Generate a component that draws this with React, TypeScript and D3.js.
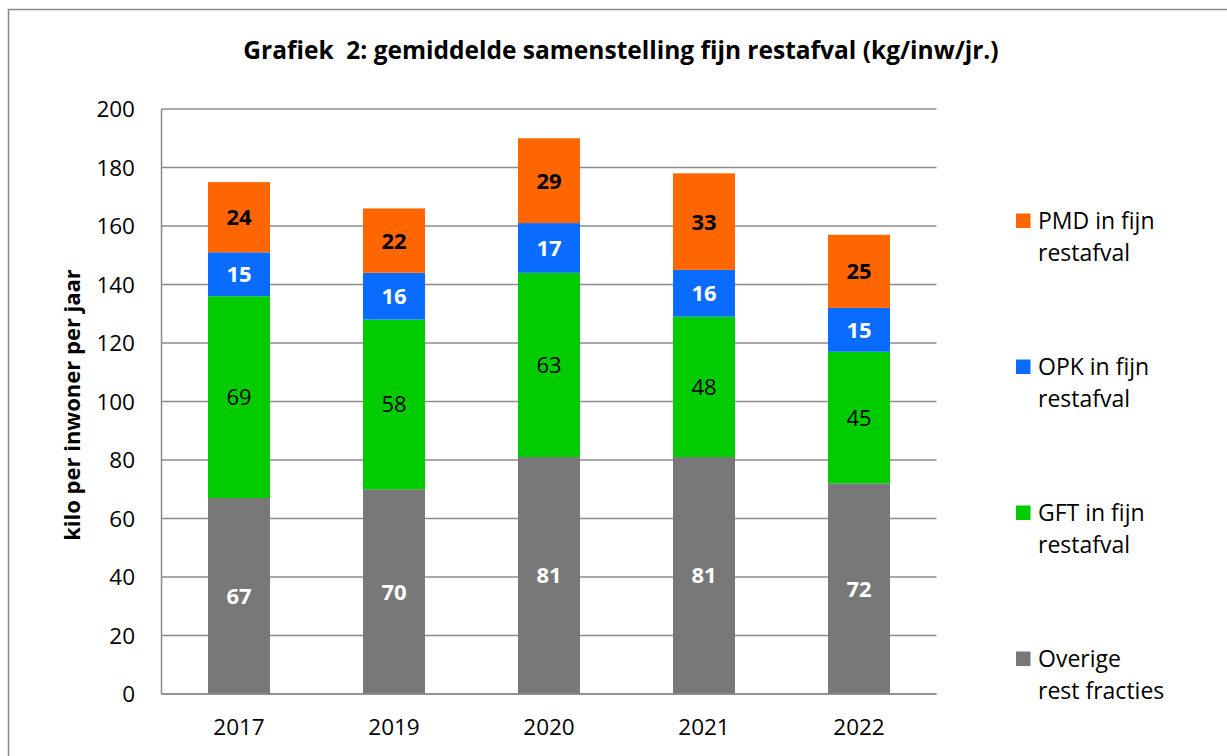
import React from "react";
import * as d3 from "d3";

const years = ["2017", "2019", "2020", "2021", "2022"];
const overige = [67, 70, 81, 81, 72];
const gft = [69, 58, 63, 48, 45];
const opk = [15, 16, 17, 16, 15];
const pmd = [24, 22, 29, 33, 25];
const yTicks = [0, 20, 40, 60, 80, 100, 120, 140, 160, 180, 200];

const seriesNames = ["Overige rest fracties", "GFT in fijn restafval", "OPK in fijn restafval", "PMD in fijn restafval"];
const legendLines = [
  ["PMD in fijn", "restafval"],
  ["OPK in fijn", "restafval"],
  ["GFT in fijn", "restafval"],
  ["Overige", "rest fracties"],
];
const colors = ["#787878", "#00CC00", "#0A6CFF", "#FF6600"];
const labelStyle = [
  { fill: "#ffffff", weight: 700 },
  { fill: "#000000", weight: 400 },
  { fill: "#ffffff", weight: 700 },
  { fill: "#000000", weight: 700 },
];

const FONT = "'Open Sans', 'DejaVu Sans', sans-serif";

export default function App() {
  const W = 1227, H = 756;
  const left = 161.5, right = 936.5, top = 109, bottom = 694;
  const x = d3.scaleBand().domain(years).range([left, right]).paddingInner(0.6).paddingOuter(0.3);
  const y = d3.scaleLinear().domain([0, 200]).range([bottom, top]);

  const table = years.map((yr, i) => ({ year: yr, s0: overige[i], s1: gft[i], s2: opk[i], s3: pmd[i] }));
  const stack = d3.stack<any>().keys(["s0", "s1", "s2", "s3"]);
  const stacked = stack(table);

  return (
    <svg width={W} height={H} style={{ position: "absolute", left: 0, top: 0, background: "#fff" }} fontFamily={FONT}>
      <rect x={8.5} y={9.5} width={1300} height={800} fill="#fff" stroke="#888" strokeWidth={1.5} />
      <text x={621} y={59} textAnchor="middle" fontSize={24.5} fontWeight={700} fill="#000" style={{ whiteSpace: "pre" }}>
        {"Grafiek  2: gemiddelde samenstelling fijn restafval (kg/inw/jr.)"}
      </text>
      {yTicks.map((t) => (
        <g key={t}>
          <line x1={left} x2={right} y1={y(t)} y2={y(t)} stroke="#8c8c8c" strokeWidth={1.5} />
          <text x={135} y={y(t)} dy="0.36em" textAnchor="end" fontSize={22.5} fill="#000">{t}</text>
        </g>
      ))}
      <line x1={left} x2={left} y1={top} y2={bottom} stroke="#8c8c8c" strokeWidth={1.5} />
      {stacked.map((layer, si) => (
        <g key={si}>
          {layer.map((d, i) => {
            const x0 = x(years[i])!;
            const y0 = y(d[1]);
            const h = y(d[0]) - y(d[1]);
            return (
              <g key={i}>
                <rect x={x0} y={y0} width={x.bandwidth()} height={h} fill={colors[si]} />
                <text
                  x={x0 + x.bandwidth() / 2}
                  y={y0 + h / 2}
                  dy="0.36em"
                  textAnchor="middle"
                  fontSize={22}
                  fontWeight={labelStyle[si].weight}
                  fill={labelStyle[si].fill}
                >
                  {d[1] - d[0]}
                </text>
              </g>
            );
          })}
        </g>
      ))}
      <line x1={left} x2={right} y1={bottom} y2={bottom} stroke="#8c8c8c" strokeWidth={1.5} />
      {years.map((yr) => (
        <text key={yr} x={x(yr)! + x.bandwidth() / 2} y={735} textAnchor="middle" fontSize={22.5} fill="#000">{yr}</text>
      ))}
      <text transform={`translate(80,405) rotate(-90)`} textAnchor="middle" fontSize={22} fontWeight={700} fill="#000">
        kilo per inwoner per jaar
      </text>
      {legendLines.map((lines, i) => {
        const cy = 221 + i * 146;
        return (
          <g key={i}>
            <title>{seriesNames[3 - i]}</title>
            <rect x={1016} y={cy - 7.5} width={14.5} height={14.5} fill={colors[3 - i]} />
            <text x={1038} y={cy} dy="0.36em" fontSize={23} fill="#000">{lines[0]}</text>
            <text x={1038} y={cy + 31.5} dy="0.36em" fontSize={23} fill="#000">{lines[1]}</text>
          </g>
        );
      })}
    </svg>
  );
}
